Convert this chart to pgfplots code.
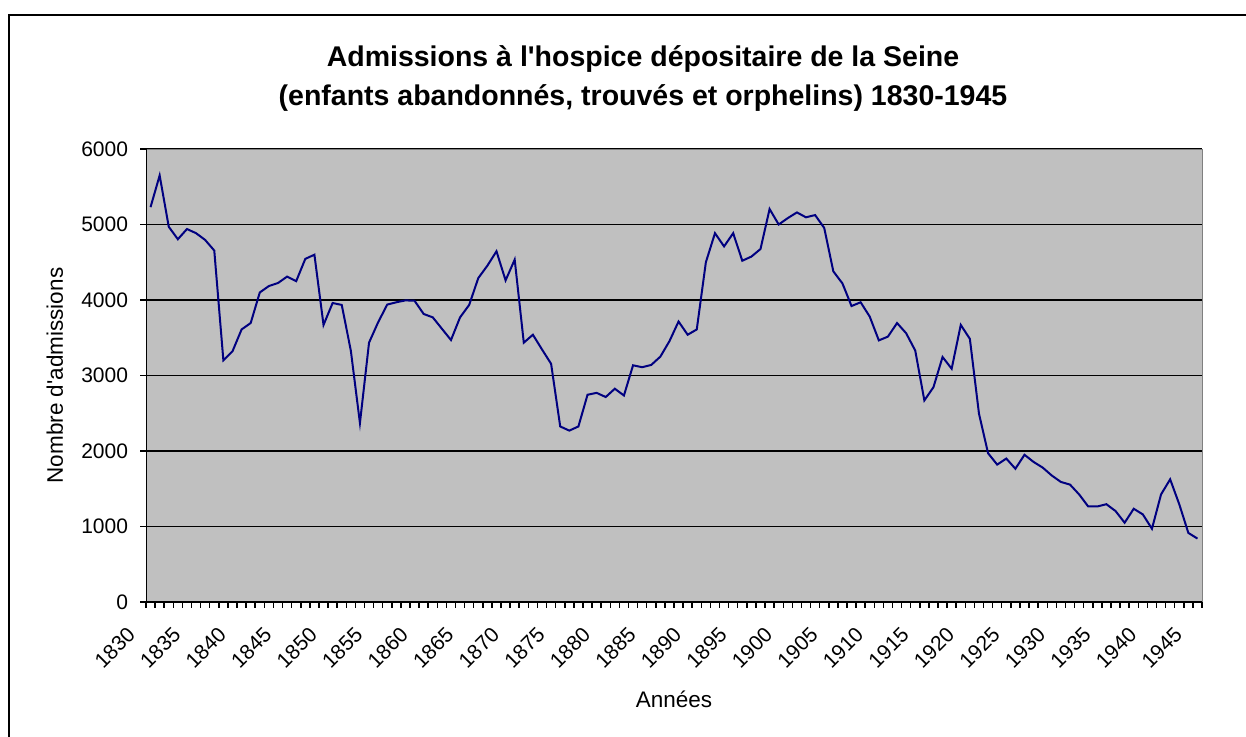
\documentclass[border=0pt]{standalone}
\usepackage{pgfplots}
\pgfplotsset{compat=1.18}
\usepackage{fontspec}
\setmainfont{Liberation Sans}
\definecolor{plotgray}{RGB}{192,192,192}
\definecolor{navyline}{RGB}{0,0,128}
\definecolor{edgegray}{RGB}{128,128,128}
\begin{document}
\begin{tikzpicture}
\begin{axis}[
  at={(0,0)}, anchor=south west,
  scale only axis,
  width=528pt, height=226.5pt,
  xmin=1829.5, xmax=1945.5,
  ymin=0, ymax=6000,
  axis background/.style={fill=plotgray},
  axis line style={draw=edgegray, line width=0.5pt},
  xtick={1830,1835,...,1945},
  minor xtick={1829.5,1830.5,...,1945.5},
  ytick={0,1000,...,6000},
  xtick pos=bottom, ytick pos=left,
  tick align=outside,
  major tick length=3pt, minor tick length=3pt,
  major x tick style={draw=none},
  minor x tick style={black, line width=0.75pt},
  ytick style={black, line width=0.75pt},
  ymajorgrids,
  grid style={black, line width=0.9pt},
  /pgf/number format/assume math mode=true,
  /pgf/number format/1000 sep={},
  tick label style={font=\fontsize{10.5pt}{12pt}\selectfont},
  xticklabel style={inner sep=0pt, xshift=-9.5pt, yshift=-11.5pt, rotate=45, anchor=east},
  yticklabel style={inner sep=0pt, anchor=east, xshift=-5.8pt},
  xlabel={Années},
  ylabel={Nombre d\textquotesingle admissions},
  label style={font=\fontsize{11.25pt}{13pt}\selectfont},
  xlabel style={at={(axis description cs:0.5,0)}, anchor=base, yshift=-52.65pt, inner sep=0pt},
  ylabel style={at={(axis description cs:0,0.5)}, anchor=base, yshift=41.5pt, inner sep=0pt},
]
\addplot[navyline, line width=1pt, mark=none] coordinates {
(1830,5230) (1831,5650) (1832,4970) (1833,4805) (1834,4940) (1835,4885)
(1836,4795) (1837,4655) (1838,3200) (1839,3320) (1840,3610) (1841,3695)
(1842,4100) (1843,4185) (1844,4225) (1845,4310) (1846,4250) (1847,4545)
(1848,4600) (1849,3670) (1850,3960) (1851,3935) (1852,3330) (1853,2370)
(1854,3435) (1855,3705) (1856,3940) (1857,3970) (1858,3995) (1859,3990)
(1860,3815) (1861,3770) (1862,3620) (1863,3470) (1864,3770) (1865,3935)
(1866,4290) (1867,4455) (1868,4645) (1869,4260) (1870,4535) (1871,3435)
(1872,3540) (1873,3345) (1874,3155) (1875,2325) (1876,2270) (1877,2325)
(1878,2745) (1879,2770) (1880,2715) (1881,2825) (1882,2735) (1883,3135)
(1884,3110) (1885,3140) (1886,3250) (1887,3455) (1888,3715) (1889,3540)
(1890,3610) (1891,4500) (1892,4885) (1893,4710) (1894,4885) (1895,4520)
(1896,4575) (1897,4675) (1898,5205) (1899,5000) (1900,5085) (1901,5160)
(1902,5095) (1903,5125) (1904,4955) (1905,4380) (1906,4220) (1907,3920)
(1908,3970) (1909,3780) (1910,3465) (1911,3515) (1912,3695) (1913,3560)
(1914,3330) (1915,2670) (1916,2845) (1917,3245) (1918,3090) (1919,3670)
(1920,3485) (1921,2495) (1922,1970) (1923,1820) (1924,1900) (1925,1765)
(1926,1950) (1927,1855) (1928,1780) (1929,1675) (1930,1590) (1931,1555)
(1932,1425) (1933,1265) (1934,1265) (1935,1295) (1936,1205) (1937,1050)
(1938,1235) (1939,1160) (1940,970) (1941,1425) (1942,1625) (1943,1295)
(1944,915) (1945,840)
};
\draw[black, line width=1pt] (rel axis cs:0,1) -- (rel axis cs:0,0) -- (rel axis cs:1,0);
\end{axis}
\draw[black, line width=1pt] (-68.5pt,-67.5pt) -- (-68.5pt,293.5pt) -- (550pt,293.5pt);
\node[anchor=base, font=\bfseries\fontsize{14.25pt}{17pt}\selectfont] at (248.5pt,267.65pt) {Admissions à l\textquotesingle hospice dépositaire de la Seine};
\node[anchor=base, font=\bfseries\fontsize{14.25pt}{17pt}\selectfont] at (248.5pt,248pt) {(enfants abandonnés, trouvés et orphelins) 1830-1945};
\pgfresetboundingbox
\path[use as bounding box] (-73pt,-67.5pt) rectangle (550pt,301pt);
\end{tikzpicture}
\end{document}
